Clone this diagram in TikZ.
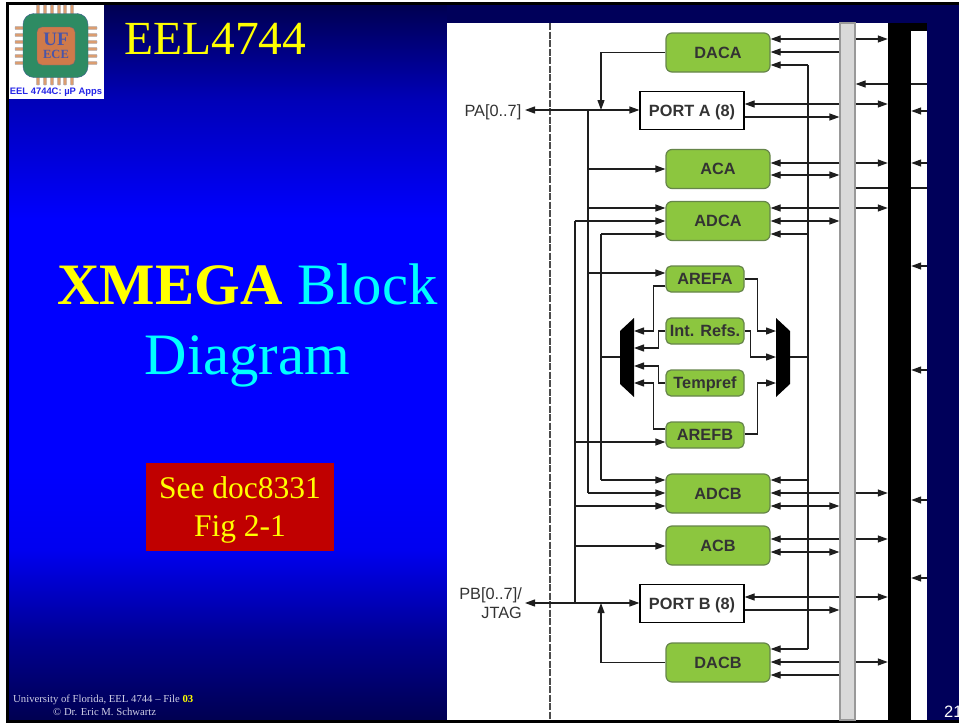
\documentclass[tikz,border=0pt]{standalone}
\usepackage{fontspec}
\setmainfont{Liberation Serif}
\newfontfamily\arialfont{Liberation Sans}
\usetikzlibrary{arrows.meta,positioning,calc}

\definecolor{slidenavy}{HTML}{00005A}
\definecolor{slideyellow}{HTML}{FFFF00}
\definecolor{slidecyan}{HTML}{00FFFF}
\definecolor{slidered}{HTML}{C00000}
\definecolor{footgray}{HTML}{CFCFE6}
\definecolor{blockgreen}{HTML}{8CC63F}
\definecolor{blockedge}{HTML}{66854A}
\definecolor{inkgray}{HTML}{333333}
\definecolor{wiregray}{HTML}{1E1E1E}
\definecolor{pinorange}{HTML}{DB9D70}
\definecolor{chipgreen}{HTML}{2E8B63}
\definecolor{chipedge}{HTML}{3F5F8F}
\definecolor{coreorange}{HTML}{CF7A4A}
\definecolor{logoblue}{HTML}{4A55A8}
\definecolor{logotext}{HTML}{2424E8}

\begin{document}
\begin{tikzpicture}[x=1pt,y=-1pt]
  %----- styles
  \tikzset{
    block/.style   ={draw=blockedge,line width=1.2pt,fill=blockgreen,rounded corners=6pt,text=inkgray,
                     font=\arialfont\fontsize{16.3}{18}\selectfont\bfseries,text height=11.7pt,text depth=0pt,
                     minimum width=104pt,minimum height=39pt,inner sep=0pt},
    refblock/.style={block,rounded corners=5pt,minimum width=78pt,minimum height=26pt},
    portbox/.style ={draw=black,line width=1.2pt,fill=white,text=inkgray,
                     font=\arialfont\fontsize{16.3}{18}\selectfont\bfseries,text height=11.7pt,text depth=0pt,
                     minimum width=104pt,minimum height=38pt,inner sep=0pt},
    padlabel/.style={text=inkgray,font=\arialfont\fontsize{16.3}{19}\selectfont,align=right,inner sep=0pt},
    wire/.style    ={draw=wiregray,line width=1.2pt},
    arrow/.style   ={wire,-{Triangle[length=10pt,width=7pt]}},
    twoway/.style  ={wire,{Triangle[length=10pt,width=7pt]}-{Triangle[length=10pt,width=7pt]}},
    pin/.style     ={fill=pinorange,draw=chipedge!50,line width=.3pt,rounded corners=.8pt}
  }

  \useasboundingbox (0,0) rectangle (959,723);

  %==================== SLIDE BACKGROUND ====================
  \fill[white] (0,0) rectangle (959,723);
  \foreach \ya/\yb/\ca/\cb in {4/100/000050/0000B8,100/220/0000B8/0000FF,220/470/0000FF/0000FF,
                               470/550/0000FF/0000F0,550/640/0000F0/000090,640/721/000090/000050}{
    \definecolor{bandtop}{HTML}{\ca}
    \definecolor{bandbot}{HTML}{\cb}
    \shade[top color=bandtop,bottom color=bandbot] (8,\ya) rectangle (447,\yb+.4);
  }
  \fill[slidenavy] (447,4) rectangle (959,721);
  \fill[black] (6,2) rectangle (959,4.5);
  \fill[black] (6,2) rectangle (9,723);
  \fill[black] (6,720) rectangle (959,722.5);

  %----- logo
  \node[fill=white,minimum width=95pt,minimum height=94pt,inner sep=0pt] (logo) at (56.5,52) {};
  \foreach \pp in {38,45,52,59,65,72}{
    \fill[pin] (\pp-1.7,5) rectangle (\pp+1.7,16);
    \fill[pin] (\pp-1.7,74) rectangle (\pp+1.7,85);
  }
  \foreach \pp in {28,35,42,49,56,63}{
    \fill[pin] (15,\pp-1.7) rectangle (27,\pp+1.7);
    \fill[pin] (84,\pp-1.7) rectangle (97,\pp+1.7);
  }
  \node[draw=chipedge,fill=chipgreen,rounded corners=11pt,minimum width=65pt,minimum height=64pt,inner sep=0pt] (chip) at (55.5,45.5) {};
  \node[draw=chipedge!60!coreorange,fill=coreorange,rounded corners=5pt,minimum width=38pt,minimum height=38pt,inner sep=0pt] (core) at (56,46) {};
  \node[text=logoblue,font=\fontsize{19}{19}\selectfont\bfseries,text height=12.5pt,text depth=0pt,inner sep=0pt] (logoUF) at (56,39.5) {UF};
  \node[text=logoblue,font=\fontsize{12.5}{13}\selectfont\bfseries,text height=8.3pt,text depth=0pt,inner sep=0pt] (logoECE) at (56,54.5) {ECE};
  \node[text=logotext,font=\arialfont\fontsize{9.4}{11}\selectfont\bfseries,inner sep=0pt] (logoText) at (56,92) {EEL 4744C: µP Apps};

  %----- slide texts
  \node[anchor=base west,text=slideyellow,font=\fontsize{47.5}{50}\selectfont,inner sep=0pt] (title) at (124,54.5) {EEL4744};
  \node[text=slidecyan,font=\fontsize{58.7}{70}\selectfont,align=center,inner sep=0pt] (topic) at (247.5,325)
    {\textcolor{slideyellow}{\bfseries XMEGA} Block\\Diagram};
  \node[fill=slidered,text=slideyellow,font=\fontsize{31.5}{38.5}\selectfont,align=center,inner sep=0pt,minimum width=188pt,minimum height=88pt] (seeDoc) at (240,507) {};
  \node[text=slideyellow,font=\fontsize{31.5}{38.5}\selectfont,align=center,inner sep=0pt] (seeText) at (240,510)
    {See doc8331\\Fig 2-1};
  \node[anchor=base west,text=footgray,font=\fontsize{10.7}{12}\selectfont,inner sep=0pt] (footA) at (13,702)
    {University of Florida, EEL 4744 -- File \textcolor{slideyellow}{\bfseries 03}};
  \node[anchor=base west,text=footgray,font=\fontsize{10.7}{12}\selectfont,inner sep=0pt] (footB) at (53,715) {© Dr. Eric M. Schwartz};
  \node[anchor=base west,text=white,font=\arialfont\fontsize{16.5}{18}\selectfont,inner sep=0pt] (pageNo) at (944,717) {21};

  %==================== DATASHEET PANEL ====================
  \node[fill=white,minimum width=480pt,minimum height=697pt,inner sep=0pt] (panel) at (687,371.5) {};
  \coordinate (edgeR) at (927,371);
  \coordinate (pinT) at (550,23);
  \coordinate (pinB) at (550,720);
  \draw[draw=black!70,line width=1.2pt,dash pattern=on 7pt off 1.5pt] (pinT) -- (pinB);

  %----- bars
  \node[draw=black!40,line width=1.2pt,fill=black!15,minimum width=15pt,minimum height=697pt,inner sep=0pt] (bus) at (847.5,371.5) {};
  \node[fill=black,minimum width=23pt,minimum height=697pt,inner sep=0pt] (cpu) at (899.5,371.5) {};
  \node[fill=black,minimum width=39pt,minimum height=8pt,inner sep=0pt] (cpuCap) at (907.5,27) {};

  %----- blocks
  \node[block] (DACA) at (718,52.5) {DACA};
  \node[portbox] (portA) at (692,110.5) {PORT A (8)};
  \node[block] (ACA) at (718,169) {ACA};
  \node[block] (ADCA) at (718,221) {ADCA};
  \node[refblock] (AREFA) at (705,279) {AREFA};
  \node[refblock] (intRefs) at (705,331) {Int. Refs.};
  \node[refblock] (tempRef) at (705,383) {Tempref};
  \node[refblock] (AREFB) at (705,435) {AREFB};
  \node[block] (ADCB) at (718,493.5) {ADCB};
  \node[block] (ACB) at (718,545.5) {ACB};
  \node[portbox] (portB) at (692,603.5) {PORT B (8)};
  \node[block] (DACB) at (718,662.5) {DACB};

  %----- pads
  \coordinate (padA) at (525,110);
  \coordinate (padB) at (525,603);
  \node[padlabel,anchor=east] (labelA) at (521.5,112) {PA[0..7]};
  \node[padlabel,anchor=east] (labelB) at (522,603.5) {PB[0..7]/\\JTAG};

  %----- muxes
  \coordinate (muxLo) at (620,357);
  \coordinate (muxLi) at (634,357);
  \coordinate (muxRi) at (776,357);
  \coordinate (muxRo) at (790,357);
  \fill[black] (muxLi |- 0,318) -- (muxLi |- 0,397) -- (muxLo |- 0,384) -- (muxLo |- 0,331) -- cycle;
  \fill[black] (muxRi |- 0,318) -- (muxRi |- 0,397) -- (muxRo |- 0,384) -- (muxRo |- 0,331) -- cycle;

  %----- spines
  \coordinate (spA) at (588,110);
  \coordinate (spB) at (575,603);
  \coordinate (spC) at (601,357);
  \coordinate (spR) at (808,357);
  \draw[wire] (spA) -- (spA |- 0,493);
  \draw[wire] (spB) -- (spB |- 0,221);
  \draw[wire] (spC |- 0,234) -- (spC |- 0,480);
  \draw[wire] (spR |- 0,65) -- (spR |- 0,649);
  \draw[wire] (spC) -- (muxLo);
  \draw[wire] (muxRo) -- (spR);

  %----- connections
  % pads <-> ports
  \draw[twoway] (padA) -- (portA.west |- padA);
  \draw[twoway] (padB) -- (portB.west |- padB);
  \draw[arrow] (DACA.west) -| (spC |- padA);
  \draw[arrow] (DACB.west) -| (spC |- padB);

  % spines -> blocks
  \foreach \yy/\blk in {169/ACA,208/ADCA,273/AREFA,493/ADCB}
    \draw[arrow] (spA |- 0,\yy) -- (\blk.west |- 0,\yy);
  \foreach \yy/\blk in {221/ADCA,442/AREFB,506/ADCB,546/ACB}
    \draw[arrow] (spB |- 0,\yy) -- (\blk.west |- 0,\yy);
  \foreach \yy/\blk in {234/ADCA,480/ADCB}
    \draw[arrow] (spC |- 0,\yy) -- (\blk.west |- 0,\yy);
  \foreach \yy/\blk in {65/DACA,234/ADCA,480/ADCB,649/DACB}
    \draw[arrow] (spR |- 0,\yy) -- (\blk.east |- 0,\yy);

  % bus <-> blocks
  \foreach \yy/\blk in {39/DACA,52/DACA,104/portA,163/ACA,208/ADCA,493/ADCB,539/ACB,597/portB,662/DACB,675/DACB}
    \draw[arrow] (bus.west |- 0,\yy) -- (\blk.east |- 0,\yy);
  \foreach \yy/\blk in {175/ACA,221/ADCA,506/ADCB,552/ACB}
    \draw[twoway] (bus.west |- 0,\yy) -- (\blk.east |- 0,\yy);
  \foreach \yy/\blk in {117/portA,610/portB}
    \draw[arrow] (\blk.east |- 0,\yy) -- (bus.west |- 0,\yy);

  % bus <-> cpu
  \foreach \yy in {39,104,163,208,493,539,597,662}
    \draw[arrow] (bus.east |- 0,\yy) -- (cpu.west |- 0,\yy);
  \foreach \yy in {111,163,266,370,500,578}
    \draw[arrow] (edgeR |- 0,\yy) -- (cpu.east |- 0,\yy);
  \draw[wire] (edgeR |- 0,84) -- (cpu.east |- 0,84);
  \draw[arrow] (cpu.west |- 0,84) -- (bus.east |- 0,84);
  \draw[wire] (bus.east |- 0,188) -- (cpu.west |- 0,188);
  \draw[wire] (cpu.east |- 0,188) -- (edgeR |- 0,188);

  % references -> left mux
  \draw[arrow] (AREFA.west |- 0,286) -- ++(-12,0) |- (muxLi |- 0,331);
  \draw[arrow] (intRefs.west |- 0,331) -- ++(-7,0) |- (muxLi |- 0,348);
  \draw[arrow] (tempRef.west |- 0,383) -- ++(-7,0) |- (muxLi |- 0,366);
  \draw[arrow] (AREFB.west |- 0,429) -- ++(-12,0) |- (muxLi |- 0,383);

  % references -> right mux
  \draw[arrow] (AREFA.east |- 0,279) -- ++(13,0) |- (muxRi |- 0,331);
  \draw[arrow] (intRefs.east |- 0,331) -- ++(6,0) |- (muxRi |- 0,357);
  \draw[arrow] (AREFB.east |- 0,434) -- ++(13,0) |- (muxRi |- 0,383);

\end{tikzpicture}
\end{document}
